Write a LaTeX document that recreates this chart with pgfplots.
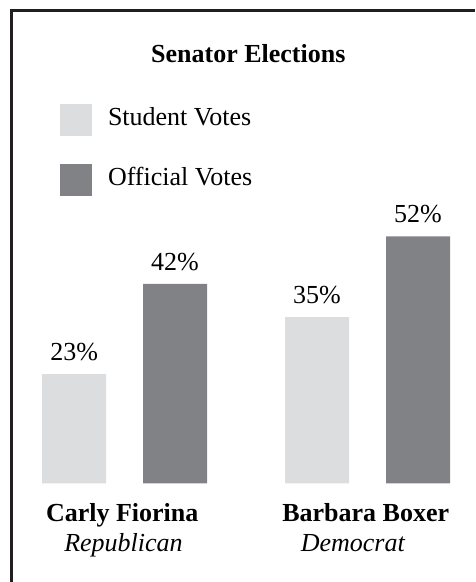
\documentclass[border=0pt]{standalone}
\usepackage{fontspec}
\setmainfont{Liberation Serif}
\usepackage{pgfplots}
\pgfplotsset{compat=1.18}
\definecolor{lightbar}{HTML}{DCDDDF}
\definecolor{darkbar}{HTML}{808285}
\definecolor{framecol}{HTML}{231F20}
\begin{document}
\fontsize{26}{29}\selectfont
\begin{tikzpicture}[x=1pt,y=1pt,font=\fontsize{26}{29}\selectfont]
\path[use as bounding box] (0,0) rectangle (475,582);
\draw[framecol, line width=3pt] (11.5,0) -- (11.5,571.5) -- (475,571.5);
\begin{axis}[
  at={(0pt,98.5pt)}, anchor=south west,
  scale only axis, width=475pt, height=475pt,
  xmin=0, xmax=475, ymin=0, ymax=100,
  axis x line=bottom, axis y line=none,
  x axis line style={draw=none},
  major tick length=0pt,
  ytick=\empty,
  xtick={122.2,365.7},
  xticklabels={Carly Fiorina, Barbara Boxer},
  xticklabel style={anchor=base, yshift=-38pt, font=\fontsize{26}{29}\selectfont\bfseries, inner sep=0pt},
  extra x ticks={123.5,352.8},
  extra x tick labels={Republican, Democrat},
  extra x tick style={xticklabel style={anchor=base, yshift=-29.5pt, font=\fontsize{26}{29}\selectfont\itshape, inner sep=0pt}},
  title={Senator Elections},
  every axis title shift=0pt,
  title style={at={(axis description cs:0.5227,0.8859)}, anchor=base, yshift=0pt, font=\fontsize{26}{29}\selectfont\bfseries, inner sep=0pt},
  clip=false,
  legend style={at={(axis description cs:0.12632,0.7989)}, anchor=north west, draw=none, fill=none,
    inner sep=0pt, outer sep=0pt, font=\fontsize{26}{29}\selectfont,
    nodes={inner sep=0pt}, row sep=28pt,
    /tikz/every odd column/.append style={column sep=16pt}},
  legend cell align=left,
  legend image code/.code={\fill[#1, draw=none] (0pt,-18pt) rectangle (32pt,14pt);},
  /pgf/number format/assume math mode=true,
  nodes near coords={\pgfmathprintnumber{\pgfplotspointmeta}\%},
  every node near coord/.append style={anchor=base, yshift=13.5pt, inner sep=0pt, font=\fontsize{26}{29}\selectfont},
]
\addplot[ybar, bar width=64, bar shift=0pt, fill=lightbar, draw=none] coordinates {(74.2,23) (317,35)};
\addlegendentry{Student Votes}
\addplot[ybar, bar width=64, bar shift=0pt, fill=darkbar, draw=none] coordinates {(175,42) (418,52)};
\addlegendentry{Official Votes}
\end{axis}
\end{tikzpicture}
\end{document}
